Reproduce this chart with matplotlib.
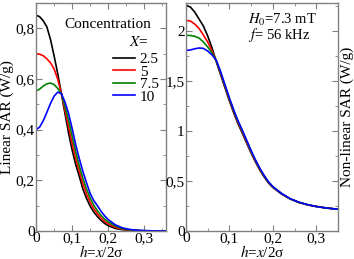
import matplotlib
matplotlib.use("Agg")
import matplotlib.pyplot as plt
from matplotlib.ticker import FixedLocator, MultipleLocator

plt.rcParams['font.family'] = ['Liberation Serif', 'DejaVu Serif']
plt.rcParams['mathtext.fontset'] = 'stix'

# ---------------- data ----------------
concentrations = ["2.5", "5", "7.5", "10"]
colors = ["black", "#ff0000", "#008000", "#0000ff"]

h = [0.00, 0.01, 0.02, 0.03, 0.04, 0.05, 0.06, 0.07, 0.08, 0.09, 0.10,
     0.11, 0.12, 0.13, 0.14, 0.15, 0.16, 0.17, 0.18, 0.19, 0.20, 0.22,
     0.24, 0.26, 0.28, 0.30, 0.33, 0.36]

lin_25 = [0.852, 0.846, 0.830, 0.806, 0.757, 0.692, 0.622, 0.545, 0.465, 0.388, 0.320,
          0.262, 0.215, 0.165, 0.128, 0.098, 0.075, 0.057, 0.042, 0.030, 0.021, 0.010,
          0.005, 0.0025, 0.0012, 0.0006, 0.0002, 0.0]
lin_5 = [0.700, 0.698, 0.692, 0.680, 0.664, 0.640, 0.600, 0.545, 0.478, 0.412, 0.347,
         0.287, 0.234, 0.186, 0.146, 0.114, 0.088, 0.068, 0.051, 0.038, 0.028, 0.014,
         0.007, 0.0035, 0.0017, 0.0008, 0.0003, 0.0]
lin_75 = [0.553, 0.560, 0.572, 0.581, 0.584, 0.578, 0.563, 0.543, 0.493, 0.438, 0.375,
          0.312, 0.256, 0.207, 0.165, 0.130, 0.102, 0.080, 0.062, 0.047, 0.036, 0.019,
          0.009, 0.0045, 0.0022, 0.001, 0.0004, 0.0]
lin_10 = [0.400, 0.410, 0.435, 0.468, 0.503, 0.532, 0.548, 0.543, 0.510, 0.465, 0.405,
          0.340, 0.285, 0.234, 0.190, 0.148, 0.120, 0.100, 0.078, 0.060, 0.045, 0.024,
          0.012, 0.006, 0.003, 0.0015, 0.0005, 0.0]

hr = [0.00, 0.01, 0.02, 0.03, 0.04, 0.05, 0.06, 0.07, 0.08, 0.09, 0.10,
      0.11, 0.12, 0.13, 0.14, 0.15, 0.16, 0.17, 0.18, 0.19, 0.20, 0.22,
      0.24, 0.26, 0.28, 0.30, 0.32, 0.34, 0.35]

nl_25 = [2.258, 2.240, 2.190, 2.120, 2.050, 1.950, 1.830, 1.690, 1.560, 1.430, 1.300,
         1.180, 1.070, 0.975, 0.875, 0.780, 0.690, 0.610, 0.540, 0.480, 0.435, 0.370,
         0.320, 0.285, 0.262, 0.245, 0.232, 0.222, 0.218]
nl_5 = [2.107, 2.100, 2.070, 2.025, 1.960, 1.890, 1.800, 1.695, 1.570, 1.440, 1.310,
        1.190, 1.080, 0.985, 0.885, 0.788, 0.697, 0.616, 0.545, 0.484, 0.438, 0.372,
        0.321, 0.286, 0.262, 0.245, 0.232, 0.222, 0.218]
nl_75 = [1.957, 1.955, 1.947, 1.930, 1.890, 1.840, 1.780, 1.700, 1.580, 1.450, 1.320,
         1.200, 1.090, 0.995, 0.895, 0.796, 0.704, 0.622, 0.550, 0.488, 0.441, 0.374,
         0.322, 0.287, 0.263, 0.245, 0.232, 0.222, 0.218]
nl_10 = [1.806, 1.810, 1.822, 1.830, 1.826, 1.800, 1.760, 1.705, 1.590, 1.460, 1.330,
         1.210, 1.100, 1.005, 0.905, 0.804, 0.711, 0.628, 0.555, 0.492, 0.444, 0.376,
         0.323, 0.288, 0.263, 0.245, 0.232, 0.222, 0.218]

lin_series = [lin_25, lin_5, lin_75, lin_10]
nl_series = [nl_25, nl_5, nl_75, nl_10]

x_ticks = [0, 0.1, 0.2, 0.3]
x_ticklabels = ["0", "0,1", "0,2", "0,3"]
yl_ticks = [0, 0.2, 0.4, 0.6, 0.8]
yl_ticklabels = ["0", "0,2", "0,4", "0,6", "0,8"]
yr_ticks = [0, 0.5, 1, 1.5, 2]
yr_ticklabels = ["0", "0,5", "1", "1,5", "2"]

# ---------------- figure ----------------
W, H = 354, 259
fig = plt.figure(figsize=(W / 100, H / 100), dpi=100)
axL = fig.add_axes([36 / W, 1 - 231 / H, 130 / W, 228 / H])
axR = fig.add_axes([186 / W, 1 - 231 / H, 152 / W, 228 / H])

spine_col = "#808080"
fs = 11

for ax in (axL, axR):
    for s in ax.spines.values():
        s.set_color(spine_col)
        s.set_linewidth(1.0)
    ax.tick_params(which="both", direction="in", top=True, right=True,
                   color=spine_col, labelsize=fs, pad=1)
    ax.tick_params(which="major", length=4)
    ax.tick_params(which="minor", length=2)
    ax.xaxis.set_major_locator(FixedLocator(x_ticks))
    ax.set_xticklabels(x_ticklabels)
    ax.xaxis.set_minor_locator(MultipleLocator(0.05))
    ax.set_xlabel(r"$h$=$x$/2σ", fontsize=fs, labelpad=-1)

for lab, col, ys in zip(concentrations, colors, lin_series):
    axL.plot(h, ys, color=col, lw=1.2, label=lab)
axL.set_xlim(0, 0.36)
axL.set_ylim(0, 0.9)
axL.yaxis.set_major_locator(FixedLocator(yl_ticks))
axL.set_yticklabels(yl_ticklabels)
axL.yaxis.set_minor_locator(MultipleLocator(0.1))
axL.set_ylabel("Linear SAR (W/g)", fontsize=fs, labelpad=1)

for lab, col, ys in zip(concentrations, colors, nl_series):
    axR.plot(hr, ys, color=col, lw=1.2, label=lab)
axR.set_xlim(0, 0.35)
axR.set_ylim(0, 2.28)
axR.yaxis.set_major_locator(FixedLocator(yr_ticks))
axR.set_yticklabels(yr_ticklabels)
axR.yaxis.set_minor_locator(MultipleLocator(0.25))
axR.yaxis.set_label_position("right")
axR.set_ylabel("Non-linear SAR (W/g)", fontsize=fs, labelpad=2)

# legend
axL.text(0.55, 0.905, "Concentration", transform=axL.transAxes,
         ha="center", va="center", fontsize=fs)
axL.text(0.79, 0.83, r"$X$=", transform=axL.transAxes,
         ha="center", va="center", fontsize=fs)
leg = axL.legend(loc="upper left", bbox_to_anchor=(0.58, 0.79),
                 frameon=False, fontsize=fs, handlelength=1.45,
                 handletextpad=0.3, labelspacing=-0.08, borderpad=0.1,
                 borderaxespad=0)

axR.text(0.41, 0.925, r"$H_{\mathit{0}}$=7.3 mT", transform=axR.transAxes,
         ha="left", va="center", fontsize=10.5)
axR.text(0.41, 0.858, r"$f$= 56 kHz", transform=axR.transAxes,
         ha="left", va="center", fontsize=10.5)

fig.savefig("out.png", dpi=100)
